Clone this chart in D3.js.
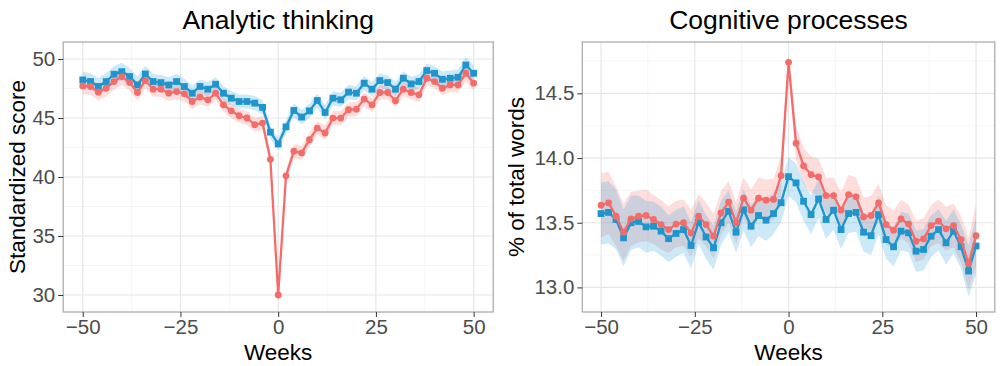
<!DOCTYPE html>
<html>
<head>
<meta charset="utf-8">
<script src="https://cdn.jsdelivr.net/npm/d3@7"></script>
<style>
  html, body { margin: 0; padding: 0; background: #fff; }
  svg { display: block; font-family: "Liberation Sans", Arial, sans-serif; }
</style>
</head>
<body>
<svg id="chart" width="1000" height="366"></svg>
<script>
// ---- data ----
const weeks = d3.range(-50, 51, 2);
const xTicks = [-50, -25, 0, 25, 50];

// Analytic thinking
const analyticRed = [47.72,47.67,47.19,47.52,48.09,48.51,48.0,47.16,48.17,47.44,47.44,47.1,47.24,47.05,46.4,46.77,46.54,47.1,46.12,45.61,45.19,45.0,44.43,44.57,41.5,
  30.0,40.1,42.18,42.04,43.16,44.15,43.73,44.99,44.99,45.7,45.75,46.6,46.12,47.16,47.16,46.46,47.44,47.16,46.96,48.37,48.09,47.52,47.8,47.8,48.79,47.95];
const analyticBlue = [48.23,48.09,47.67,48.09,48.71,48.93,48.51,47.81,48.73,48.09,48.0,47.8,48.09,47.67,47.1,47.67,47.44,47.86,47.1,46.68,46.4,46.4,46.26,45.9,43.8,
  42.8,44.25,45.64,45.08,45.6,46.48,45.47,46.68,46.54,47.19,47.1,47.95,47.44,48.17,48.0,47.44,48.37,47.89,48.09,49.02,48.79,48.28,48.37,48.45,49.49,48.79];
const analyticRedCI = [0.7,0.7,0.7,0.7,0.7,0.7,0.7,0.7,0.7,0.65,0.65,0.65,0.65,0.65,0.65,0.6,0.6,0.6,0.6,0.6,0.6,0.6,0.6,0.6,0.5,
  0.45,0.5,0.6,0.6,0.6,0.6,0.6,0.6,0.6,0.6,0.6,0.6,0.6,0.6,0.6,0.6,0.6,0.6,0.6,0.6,0.6,0.6,0.6,0.65,0.65,0.65];
const analyticBlueCI = [0.7,0.7,0.7,0.7,0.7,0.75,0.7,0.7,0.7,0.65,0.65,0.65,0.65,0.65,0.65,0.6,0.6,0.6,0.6,0.6,0.6,0.6,0.6,0.6,0.55,
  0.5,0.55,0.6,0.6,0.6,0.6,0.6,0.6,0.6,0.6,0.6,0.6,0.6,0.6,0.6,0.6,0.6,0.6,0.6,0.6,0.6,0.65,0.65,0.65,0.7,0.65];
const analyticTicks = [30, 35, 40, 45, 50];

// Cognitive processes
const cogRed = [13.635,13.653,13.55,13.427,13.53,13.55,13.556,13.525,13.486,13.447,13.49,13.50,13.42,13.55,13.486,13.396,13.576,13.66,13.50,13.69,13.597,13.69,13.674,13.68,13.864,
  14.74,14.115,13.94,13.872,13.854,13.71,13.71,13.597,13.718,13.70,13.545,13.556,13.653,13.486,13.442,13.53,13.49,13.357,13.375,13.478,13.512,13.453,13.478,13.37,13.185,13.40];
const cogBlue = [13.571,13.58,13.525,13.383,13.5,13.51,13.468,13.473,13.435,13.377,13.417,13.447,13.324,13.504,13.39,13.306,13.50,13.589,13.427,13.60,13.473,13.556,13.52,13.571,13.655,
  13.856,13.808,13.666,13.563,13.684,13.525,13.597,13.447,13.571,13.58,13.427,13.40,13.563,13.37,13.314,13.435,13.422,13.28,13.293,13.396,13.447,13.345,13.435,13.314,13.127,13.32];
const cogRedCI = [0.25,0.24,0.23,0.22,0.21,0.2,0.2,0.19,0.19,0.18,0.18,0.18,0.18,0.17,0.17,0.17,0.17,0.16,0.16,0.16,0.16,0.16,0.16,0.16,0.15,
  0.06,0.13,0.14,0.14,0.14,0.14,0.14,0.14,0.15,0.15,0.15,0.15,0.15,0.15,0.15,0.15,0.15,0.16,0.16,0.16,0.17,0.17,0.17,0.18,0.2,0.24];
const cogBlueCI = [0.24,0.24,0.23,0.22,0.21,0.2,0.2,0.19,0.19,0.18,0.18,0.18,0.18,0.17,0.17,0.17,0.17,0.16,0.16,0.16,0.16,0.16,0.16,0.16,0.15,
  0.15,0.15,0.15,0.15,0.15,0.15,0.15,0.15,0.15,0.15,0.15,0.15,0.15,0.15,0.15,0.15,0.15,0.16,0.16,0.16,0.16,0.17,0.17,0.17,0.2,0.22];
const cogTicks = [13.0, 13.5, 14.0, 14.5];

// ---- drawing ----
const RED = "#F46C6A", BLUE = "#1E96CD";
const svg = d3.select("#chart");

function panel(opt) {
  const g = svg.append("g");
  const x = d3.scaleLinear().domain([-55, 55]).range([opt.left, opt.right]);
  const y = d3.scaleLinear().domain(opt.yDomain).range([opt.bottom, opt.top]);

  // grid
  const minorX = [-37.5, -12.5, 12.5, 37.5];
  g.selectAll(".gmx").data(minorX).join("line")
    .attr("x1", d => x(d)).attr("x2", d => x(d)).attr("y1", opt.top).attr("y2", opt.bottom)
    .attr("stroke", "#f3f3f3").attr("stroke-width", 0.8);
  g.selectAll(".gmy").data(opt.minorY).join("line")
    .attr("y1", d => y(d)).attr("y2", d => y(d)).attr("x1", opt.left).attr("x2", opt.right)
    .attr("stroke", "#f3f3f3").attr("stroke-width", 0.8);
  g.selectAll(".gx").data(xTicks).join("line")
    .attr("x1", d => x(d)).attr("x2", d => x(d)).attr("y1", opt.top).attr("y2", opt.bottom)
    .attr("stroke", "#e6e6e6").attr("stroke-width", 1.2);
  g.selectAll(".gy").data(opt.yTicks).join("line")
    .attr("y1", d => y(d)).attr("y2", d => y(d)).attr("x1", opt.left).attr("x2", opt.right)
    .attr("stroke", "#e6e6e6").attr("stroke-width", 1.2);

  const series = [
    { v: opt.red, ci: opt.redCI, color: RED, fill: "rgba(248,118,109,0.24)", shape: "circle" },
    { v: opt.blue, ci: opt.blueCI, color: BLUE, fill: "rgba(70,170,220,0.27)", shape: "square" }
  ];
  // ribbons
  series.forEach(s => {
    const area = d3.area().curve(d3.curveLinear)
      .x((d, i) => x(weeks[i]))
      .y0((d, i) => y(s.v[i] - s.ci[i]))
      .y1((d, i) => y(s.v[i] + s.ci[i]));
    g.append("path").datum(s.v).attr("d", area).attr("fill", s.fill);
  });
  // lines + markers (blue first, red on top)
  [series[1], series[0]].forEach(s => {
    const line = d3.line().x((d, i) => x(weeks[i])).y(d => y(d));
    g.append("path").datum(s.v).attr("d", line).attr("fill", "none")
      .attr("stroke", s.color).attr("stroke-width", 2.3).attr("stroke-linejoin", "round");
    if (s.shape === "circle") {
      g.selectAll(null).data(s.v).join("circle")
        .attr("cx", (d, i) => x(weeks[i])).attr("cy", d => y(d)).attr("r", 3.4).attr("fill", s.color);
    } else {
      g.selectAll(null).data(s.v).join("rect")
        .attr("x", (d, i) => x(weeks[i]) - 3.4).attr("y", d => y(d) - 3.4)
        .attr("width", 6.8).attr("height", 6.8).attr("fill", s.color);
    }
  });

  // border
  g.append("rect").attr("x", opt.left).attr("y", opt.top)
    .attr("width", opt.right - opt.left).attr("height", opt.bottom - opt.top)
    .attr("fill", "none").attr("stroke", "#a6a6a6").attr("stroke-width", 1.2);

  // axes
  const xa = g.append("g").attr("transform", `translate(0,${opt.bottom})`)
    .call(d3.axisBottom(x).tickValues(xTicks).tickSize(5).tickPadding(2)
      .tickFormat(d => d < 0 ? "\u2212" + Math.abs(d) : String(d)));
  const ya = g.append("g").attr("transform", `translate(${opt.left},0)`)
    .call(d3.axisLeft(y).tickValues(opt.yTicks).tickSize(5).tickPadding(3)
      .tickFormat(opt.fmt));
  [xa, ya].forEach(a => {
    a.select(".domain").remove();
    a.selectAll(".tick line").attr("stroke", "#333").attr("stroke-width", 1);
    a.selectAll(".tick text").attr("fill", "#4d4d4d").style("font-size", "20.5px")
      .style("font-family", '"Liberation Sans", Arial, sans-serif');
  });

  // titles
  const cx = (opt.left + opt.right) / 2;
  g.append("text").attr("x", cx).attr("y", 29).attr("text-anchor", "middle")
    .style("font-size", "26.5px").attr("fill", "#000").text(opt.title);
  g.append("text").attr("x", x(0)).attr("y", 360).attr("text-anchor", "middle")
    .style("font-size", "22.5px").attr("fill", "#000").text("Weeks");
  g.append("text").attr("transform", `translate(${opt.ytitleX},${(opt.top + opt.bottom) / 2}) rotate(-90)`)
    .attr("text-anchor", "middle").style("font-size", "22.5px").attr("fill", "#000").text(opt.ytitle);
}

panel({
  left: 63.2, right: 493.2, top: 42, bottom: 312,
  yDomain: [28.56, 51.44], yTicks: analyticTicks, minorY: [32.5, 37.5, 42.5, 47.5],
  red: analyticRed, blue: analyticBlue, redCI: analyticRedCI, blueCI: analyticBlueCI,
  fmt: d3.format("d"), title: "Analytic thinking", ytitle: "Standardized score", ytitleX: 25
});
panel({
  left: 582.3, right: 994.8, top: 42, bottom: 312,
  yDomain: [12.81, 14.897], yTicks: cogTicks, minorY: [13.25, 13.75, 14.25, 14.75],
  red: cogRed, blue: cogBlue, redCI: cogRedCI, blueCI: cogBlueCI,
  fmt: d3.format(".1f"), title: "Cognitive processes", ytitle: "% of total words", ytitleX: 524
});
</script>
</body>
</html>
